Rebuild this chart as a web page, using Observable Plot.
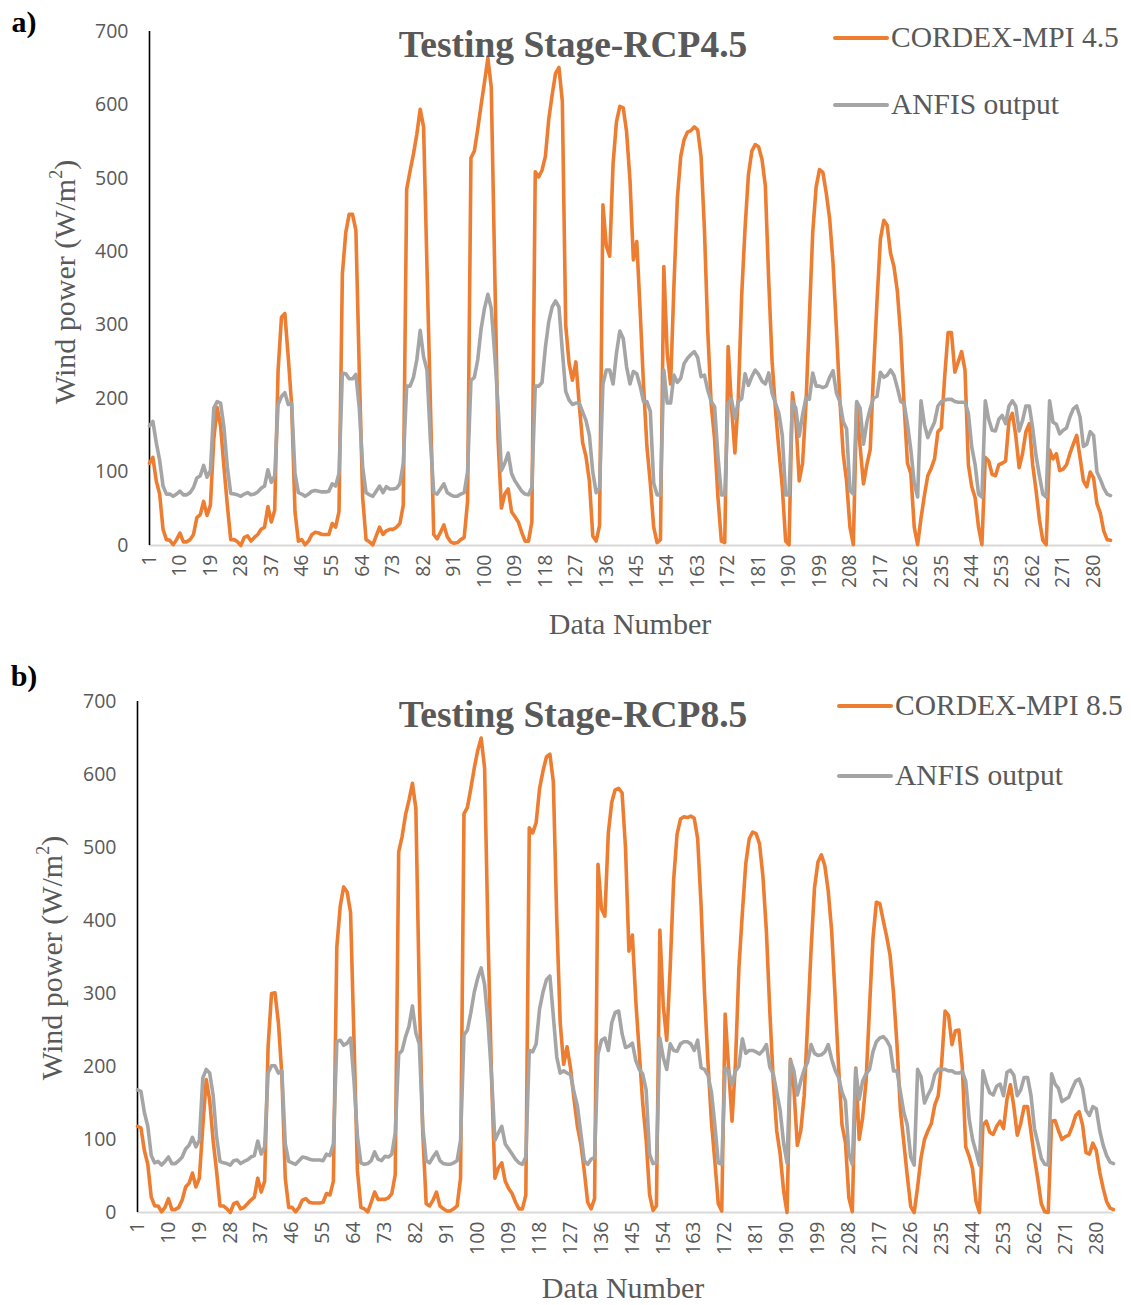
<!DOCTYPE html>
<html><head><meta charset="utf-8">
<script src="https://cdn.jsdelivr.net/npm/d3@7"></script>
<script src="https://cdn.jsdelivr.net/npm/@observablehq/plot@0.6"></script>
<style>
body{margin:0;background:#fff;}
#wrap{position:relative;width:1131px;height:1305px;overflow:hidden;background:#fff;}
.panel{position:absolute;left:0;}
.t{position:absolute;white-space:nowrap;line-height:1;font-family:"Liberation Serif","Times New Roman",serif;color:#595959;transform:translate(-50%,-50%);}
.lg{position:absolute;white-space:nowrap;line-height:1;font-family:"Liberation Serif","Times New Roman",serif;color:#595959;font-size:29.5px;transform:translateY(-50%);}
.sw{position:absolute;height:4px;border-radius:2px;}
</style></head>
<body><div id="wrap"></div>
<script>
// ---- data ----
const cordex45 = [
112,120,88,70,22,8,7,1,8,17,
5,5,8,15,38,42,60,41,55,145,
188,163,107,55,8,8,5,0,11,13,
6,11,15,22,25,53,32,48,238,311,
316,257,192,46,6,8,1,6,15,18,
17,15,15,15,30,25,46,370,426,451,
451,429,238,65,8,5,1,13,25,15,
20,22,22,25,30,55,485,510,533,560,
594,570,380,195,15,9,18,28,12,5,
3,4,8,11,60,528,537,567,600,631,
664,624,380,145,51,70,77,46,39,32,
18,6,6,32,509,502,511,530,581,614,
643,651,605,300,248,225,250,192,140,121,
88,13,6,27,464,408,394,520,577,598,
596,563,497,389,414,320,218,135,85,25,
4,8,380,262,220,356,473,530,553,563,
565,570,566,530,430,290,192,145,65,6,
4,271,190,126,200,340,432,505,537,546,
543,526,490,360,250,185,130,80,6,1,
208,173,88,112,192,309,426,488,512,508,
480,445,385,295,200,125,88,25,1,194,
135,84,110,131,239,333,417,443,436,398,
380,347,286,192,112,98,25,1,37,68,
95,105,118,155,160,230,290,290,236,250,
264,239,110,80,65,25,1,120,115,97,
95,110,112,115,170,180,150,106,125,155,
166,110,75,35,7,1,130,118,125,102,
104,110,125,138,150,120,88,80,100,92,
57,44,20,8,7];
const anfis45 = [
163,169,140,116,81,70,70,67,70,74,
69,69,72,79,92,95,109,93,102,187,
196,194,161,107,71,70,69,67,70,72,
69,70,73,78,81,103,86,95,192,203,
208,192,194,98,72,70,67,70,74,75,
74,73,73,74,84,81,98,235,234,227,
227,233,187,107,72,69,67,74,81,72,
80,77,77,78,84,112,217,217,229,253,
293,257,239,145,72,70,77,84,72,69,
67,67,70,72,100,225,229,253,295,323,
342,323,262,192,102,112,126,98,88,81,
74,70,69,79,217,217,222,270,305,325,
333,325,265,210,198,192,194,194,182,170,
150,100,72,78,220,239,239,220,262,292,
282,243,220,237,234,217,196,196,183,85,
69,69,239,194,194,232,222,228,248,255,
260,264,256,230,232,211,196,189,121,69,
69,194,199,173,196,200,234,218,230,239,
233,224,220,235,207,194,180,150,69,69,
196,187,149,178,201,199,235,217,217,215,
217,229,238,208,196,169,159,75,70,196,
187,138,168,187,201,203,236,229,232,239,
232,215,196,194,165,130,85,66,197,165,
147,158,168,190,196,198,199,199,196,195,
195,195,180,134,110,70,66,197,172,157,
156,172,177,166,190,197,190,156,170,190,
190,160,122,95,70,66,197,168,165,152,
157,160,175,186,190,175,135,138,155,150,
100,90,78,70,68];
const cordex85 = [
118,116,85,66,21,9,9,1,7,19,
4,4,7,17,35,40,54,35,47,118,
182,154,99,57,9,9,5,0,12,14,
5,7,12,17,21,47,28,43,227,300,
301,260,189,47,7,7,1,7,17,19,
14,13,13,13,14,26,24,43,364,420,
446,439,411,236,57,7,5,1,14,28,
18,18,18,20,26,52,494,515,545,565,
588,553,300,110,12,9,17,28,9,5,
2,2,5,9,47,546,555,581,609,633,
650,609,378,189,47,61,68,43,33,26,
14,5,5,24,527,520,534,581,605,624,
628,590,402,260,203,227,198,156,118,94,
57,14,5,19,477,416,406,520,562,579,
581,575,500,358,380,290,220,150,100,25,
3,9,387,283,236,335,455,518,539,542,
541,543,540,512,420,300,205,125,70,12,
2,272,198,125,205,335,410,478,512,521,
519,505,460,385,275,180,112,80,30,0,
210,170,92,112,160,260,360,445,480,490,
475,440,385,295,200,120,96,20,1,198,
100,130,180,280,375,425,423,400,378,352,
300,230,140,95,50,8,0,35,75,100,
112,122,147,160,205,276,270,230,249,250,
200,90,77,60,15,0,120,125,110,107,
118,125,115,155,175,145,106,122,145,145,
110,75,45,12,1,0,125,126,112,100,
104,106,118,133,138,120,82,80,95,85,
55,33,15,6,4];
const anfis85 = [
168,166,137,118,78,68,70,65,70,76,
67,67,71,76,87,92,103,90,99,184,
196,191,161,104,70,68,67,65,71,72,
67,70,72,76,78,98,80,90,191,201,
201,191,194,94,70,68,66,71,76,75,
73,72,72,72,71,80,78,94,234,236,
229,232,239,180,104,68,66,67,71,83,
73,71,77,76,80,109,217,222,241,255,
283,246,231,118,71,68,76,83,71,67,
66,66,68,71,99,243,250,274,302,321,
335,312,260,189,99,109,118,94,87,80,
73,68,66,76,222,220,231,279,302,319,
324,269,213,191,194,191,189,165,146,109,
71,66,73,75,217,236,239,222,260,274,
276,245,226,228,232,208,196,190,168,80,
67,68,239,212,196,231,222,221,231,234,
234,231,222,236,198,196,188,165,120,68,
66,198,194,175,194,200,238,218,222,222,
220,217,222,230,199,190,165,140,95,68,
208,194,161,180,196,206,230,218,215,216,
220,230,210,195,185,165,153,80,66,196,
155,180,190,196,220,234,239,241,236,227,
194,194,165,137,120,76,65,196,186,150,
161,170,189,196,196,196,194,194,191,191,
193,180,128,100,83,65,194,177,164,161,
173,176,160,192,195,188,160,168,185,185,
160,115,95,74,66,65,190,176,170,152,
155,158,170,180,183,170,140,133,145,142,
112,92,78,69,67];
const yTicks = [0,100,200,300,400,500,600,700];
const xTicks = d3.range(1, 281, 9); // 1,10,...,280
const seriesNames45 = ["CORDEX-MPI 4.5", "ANFIS output"];
const seriesNames85 = ["CORDEX-MPI 8.5", "ANFIS output"];
const colors = ["#ED7D31", "#A5A5A5"];

function toRows(arr){ return arr.map((v,k)=>({i:k+1, v})); }

function panel(obs, model, cfg){
  const n = obs.length;
  return Plot.plot({
    width:1131, height:cfg.height,
    marginLeft:cfg.ml, marginRight:cfg.mr, marginTop:cfg.mt, marginBottom:cfg.mb,
    style:{fontFamily:"'Open Sans', sans-serif", fontSize:"19.5px", color:"#595959", background:"#fff", overflow:"visible"},
    x:{domain:[1,n], ticks:xTicks, tickFormat:d=>String(d), tickRotate:-90, tickSize:0, tickPadding:9, label:null},
    y:{domain:[0,700], ticks:yTicks, tickSize:0, tickPadding:21, label:null},
    marks:[
      Plot.ruleY([0], {stroke:"#D9D9D9", strokeWidth:2}),
      Plot.ruleX([1], {stroke:"#000", strokeWidth:1.6}),
      Plot.line(toRows(obs), {x:"i", y:"v", stroke:colors[0], strokeWidth:3.6, strokeLinejoin:"round", strokeLinecap:"round"}),
      Plot.line(toRows(model), {x:"i", y:"v", stroke:colors[1], strokeWidth:3.6, strokeLinejoin:"round", strokeLinecap:"round"})
    ]
  });
}

const wrap = document.getElementById("wrap");
function addSvg(svg, top){ svg.classList.add("panel"); svg.style.top = top+"px"; wrap.appendChild(svg); }
function addText(html, x, y, css){ const d=document.createElement("div"); d.className="t"; d.innerHTML=html; d.style.left=x+"px"; d.style.top=y+"px"; Object.assign(d.style, css||{}); wrap.appendChild(d); return d; }
function addLegend(name, color, x, y){
  const s=document.createElement("div"); s.className="sw"; s.style.left=x+"px"; s.style.top=(y-2)+"px"; s.style.width="56px"; s.style.background=color; wrap.appendChild(s);
  const t=document.createElement("div"); t.className="lg"; t.textContent=name; t.style.left=(x+58)+"px"; t.style.top=y+"px"; wrap.appendChild(t);
}

addSvg(panel(cordex45, anfis45, {height:650, ml:149, mr:21, mt:31, mb:105}), 0);
addSvg(panel(cordex85, anfis85, {height:655, ml:137, mr:18, mt:51, mb:93}), 650);

const sup = "<sup style='font-size:0.6em;vertical-align:0.7em;line-height:0'>2</sup>";
// panel a text
addText("a)", 24, 22, {fontWeight:"bold", color:"#000", fontSize:"30px"});
addText("Testing Stage-RCP4.5", 573, 45, {fontWeight:"bold", fontSize:"37.5px"});
addLegend(seriesNames45[0], colors[0], 833, 38);
addLegend(seriesNames45[1], colors[1], 833, 105);
addText("Data Number", 630, 624, {fontSize:"30px"});
addText("Wind power (W/m"+sup+")", 65, 282, {fontSize:"30px", transform:"translate(-50%,-50%) rotate(-90deg)"});

// panel b text
addText("b)", 24, 676, {fontWeight:"bold", color:"#000", fontSize:"30px"});
addText("Testing Stage-RCP8.5", 573, 715, {fontWeight:"bold", fontSize:"37.5px"});
addLegend(seriesNames85[0], colors[0], 837, 706);
addLegend(seriesNames85[1], colors[1], 837, 776);
addText("Data Number", 623, 1288, {fontSize:"30px"});
addText("Wind power (W/m"+sup+")", 52, 958, {fontSize:"30px", transform:"translate(-50%,-50%) rotate(-90deg)"});
</script>
</body></html>
